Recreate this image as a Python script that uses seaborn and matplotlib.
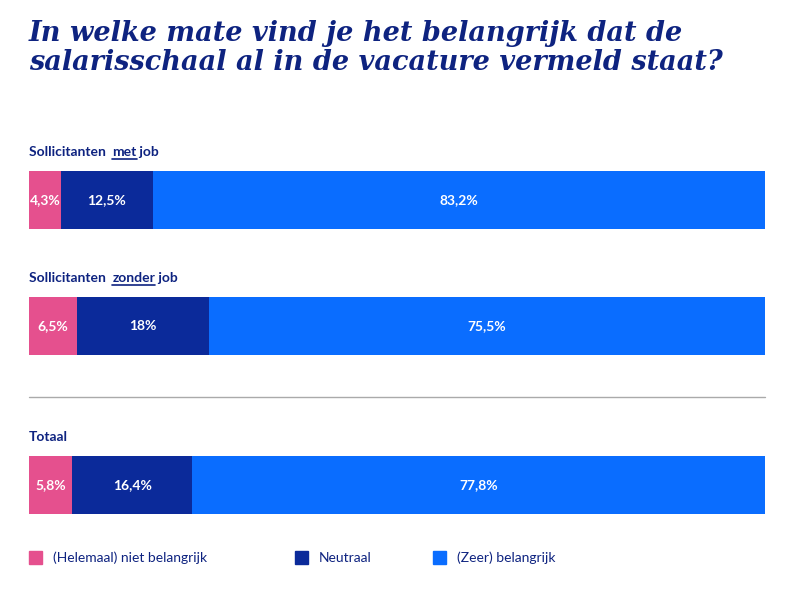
import matplotlib
matplotlib.use("Agg")
import matplotlib.pyplot as plt
import seaborn as sns
import numpy as np

sns.set_theme(style="white")
plt.rcParams['font.family'] = ['Lato', 'DejaVu Sans']

groups = ["Sollicitanten met job", "Sollicitanten zonder job", "Totaal"]
heading_parts = [("Sollicitanten ", "met", " job"), ("Sollicitanten ", "zonder", " job"), ("Totaal", "", "")]
categories = ["(Helemaal) niet belangrijk", "Neutraal", "(Zeer) belangrijk"]
niet = [4.3, 6.5, 5.8]
neutraal = [12.5, 18.0, 16.4]
belangrijk = [83.2, 75.5, 77.8]
labels = [["4,3%", "12,5%", "83,2%"], ["6,5%", "18%", "75,5%"], ["5,8%", "16,4%", "77,8%"]]
colors = ["#E5508E", "#0B2A9A", "#0A6DFF"]
navy = "#0E2380"

W, H = 800, 613
fig = plt.figure(figsize=(8, 6.13), dpi=100)
ax = fig.add_axes([29 / W, 0, (765 - 29) / W, 1])
ax.set_xlim(0, sum([niet[0], neutraal[0], belangrijk[0]]))
ax.set_ylim(H, 0)
ax.axis("off")

ycent = [200, 326, 485]
values = np.array([niet, neutraal, belangrijk]).T
for i, g in enumerate(groups):
    left = 0
    for j in range(3):
        v = values[i, j]
        ax.barh(ycent[i], v, left=left, height=58, color=colors[j], edgecolor="none")
        ax.text(left + v / 2, ycent[i], labels[i][j], color="white", fontsize=10,
                fontweight="bold", ha="center", va="center")
        left += v

fig.text(29 / W, 1 - 48 / H, "In welke mate vind je het belangrijk dat de\nsalarisschaal al in de vacature vermeld staat?",
         family="DejaVu Serif", fontstyle="italic", fontweight="bold", fontsize=19.5,
         color=navy, va="center", ha="left", linespacing=1.05)

fig.canvas.draw()
r = fig.canvas.get_renderer()
for i, parts in enumerate(heading_parts):
    x = 29
    y = H - (ycent[i] - 48)
    for k, p in enumerate(parts):
        if not p:
            continue
        t = fig.text(x / W, y / H, p, fontsize=10, fontweight="bold", color=navy, va="center", ha="left")
        bb = t.get_window_extent(r)
        if k == 1:
            fig.add_artist(plt.Line2D([bb.x0 / W, bb.x1 / W], [(bb.y0 - 1) / H] * 2, color=navy, lw=1.2))
        x = bb.x1 + (3 if p.endswith(" ") else 0)

fig.add_artist(plt.Line2D([29 / W, 765 / W], [1 - 397 / H] * 2, color="#AAAAAA", lw=1))

leg_x = [29, 295, 433]
for c, lab, lx in zip(colors, categories, leg_x):
    fig.add_artist(plt.Rectangle((lx / W, 1 - 564 / H), 13 / W, 13 / H, color=c))
    fig.text((lx + 24) / W, 1 - 558 / H, lab, fontsize=10, color=navy, va="center")

fig.savefig("out.png", dpi=100, facecolor="white")
